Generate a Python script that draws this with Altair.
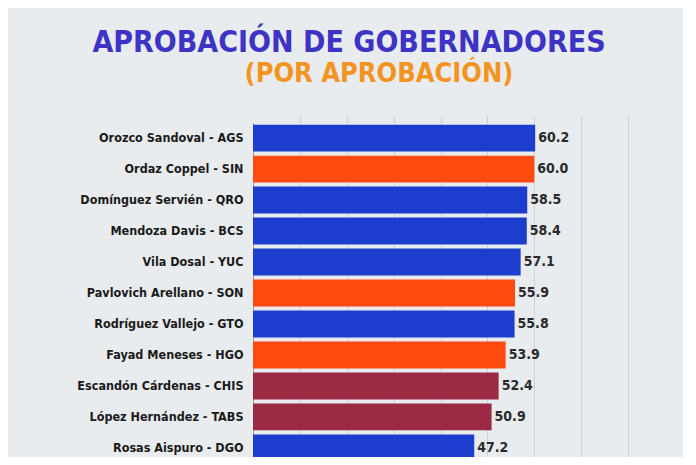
import altair as alt
import pandas as pd

names = [
    "Orozco Sandoval - AGS",
    "Ordaz Coppel - SIN",
    "Domínguez Servién - QRO",
    "Mendoza Davis - BCS",
    "Vila Dosal - YUC",
    "Pavlovich Arellano - SON",
    "Rodríguez Vallejo - GTO",
    "Fayad Meneses - HGO",
    "Escandón Cárdenas - CHIS",
    "López Hernández - TABS",
    "Rosas Aispuro - DGO",
]
values = [60.2, 60.0, 58.5, 58.4, 57.1, 55.9, 55.8, 53.9, 52.4, 50.9, 47.2]
groups = ["PAN", "PRI", "PAN", "PAN", "PAN", "PRI", "PAN", "PRI", "MORENA", "MORENA", "PAN"]

group_domain = ["PAN", "PRI", "MORENA"]
group_colors = ["#1d3dcf", "#ff4b10", "#9b2b45"]

title_text = "APROBACIÓN DE GOBERNADORES"
subtitle_text = "(POR APROBACIÓN)"

df = pd.DataFrame({"name": names, "value": values, "group": groups})

FONT = "DejaVu Sans Condensed"

y_enc = alt.Y(
    "name:N",
    sort=names,
    scale=alt.Scale(range=[0, 341], paddingInner=0.13, paddingOuter=0.07),
    axis=alt.Axis(
        title=None,
        ticks=False,
        domain=True,
        domainColor="#9a9da3",
        domainWidth=1,
        labelFont=FONT,
        labelFontWeight="bold",
        labelFontSize=12.5,
        labelColor="#1a1a1a",
        labelPadding=10,
        labelLimit=300,
    ),
)

x_enc = alt.X(
    "value:Q",
    scale=alt.Scale(domain=[0, 80], nice=False, zero=True),
    axis=alt.Axis(
        title=None,
        labels=False,
        ticks=False,
        domain=False,
        grid=True,
        gridColor="#cdd1d6",
        gridWidth=1,
        values=[10, 20, 30, 40, 50, 60, 70, 80],
    ),
)

bars = alt.Chart(df).mark_bar().encode(
    x=x_enc,
    y=y_enc,
    color=alt.Color(
        "group:N",
        scale=alt.Scale(domain=group_domain, range=group_colors),
        legend=None,
    ),
)

labels = alt.Chart(df).mark_text(
    align="left",
    baseline="middle",
    dx=3,
    font=FONT,
    fontWeight="bold",
    fontSize=14,
    color="#2a2a2a",
).encode(
    x="value:Q",
    y=alt.Y("name:N", sort=names),
    text=alt.Text("value:Q", format=".1f"),
)

title = alt.Chart(pd.DataFrame({"t": [title_text]})).mark_text(
    align="center",
    baseline="alphabetic",
    font=FONT,
    fontWeight="bold",
    fontSize=30,
    color="#3d33c4",
).encode(text="t:N", x=alt.value(96), y=alt.value(-70.5))

subtitle = alt.Chart(pd.DataFrame({"t": [subtitle_text]})).mark_text(
    align="center",
    baseline="alphabetic",
    font=FONT,
    fontWeight="bold",
    fontSize=27,
    color="#f3941e",
).encode(text="t:N", x=alt.value(126), y=alt.value(-40.5))

chart = (
    alt.layer(bars, labels, title, subtitle)
    .properties(
        width=375,
        height=334,
        autosize=alt.AutoSizeParams(type="none"),
        padding={"left": 245, "top": 114.5, "right": 55, "bottom": 0},
        background="#e9ecef",
    )
    .configure_view(stroke=None)
)

chart.save("out.html", embed_options={"renderer": "svg", "actions": False})
